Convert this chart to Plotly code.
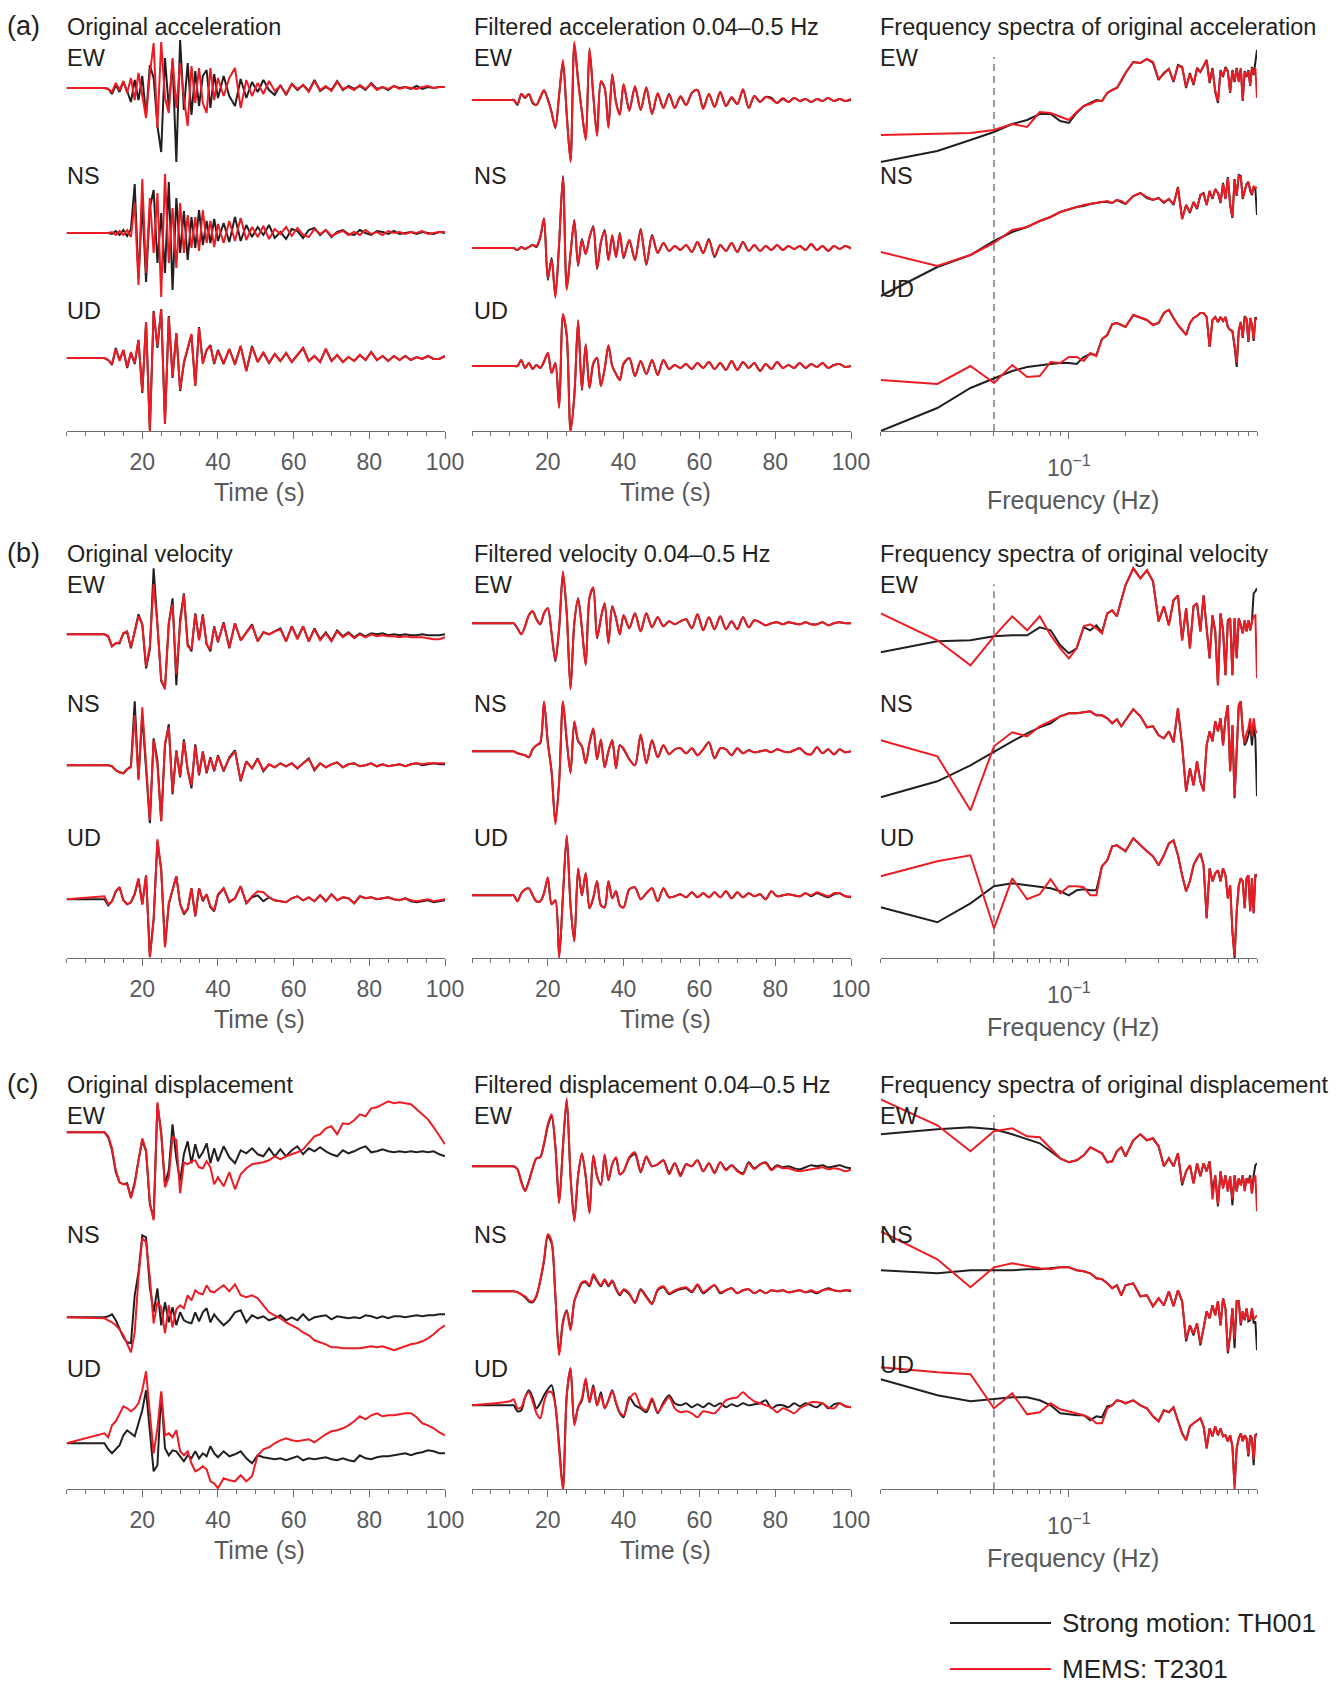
import plotly.graph_objects as go

W, H = 1342, 1683

# ---------------------------------------------------------------------------
# Sample times (s) shared by all waveforms
T = [0, 10, 11, 12, 13, 14, 15, 16,
     17, 18, 19, 20, 21, 22, 23, 24,
     25, 26, 27, 28, 29, 30, 31, 32,
     33, 34, 35, 36, 37, 38, 39, 40,
     41.5, 43, 44.5, 46, 47.5, 49, 50.5, 52,
     53.5, 55, 56.5, 58, 59.5, 61, 62.5, 64,
     65.5, 67, 68.5, 70, 71.5, 73, 74.5, 76,
     77.5, 79, 80.5, 82, 83.5, 85, 86.5, 88,
     89.5, 91, 92.5, 94, 95.5, 97, 98.5, 100]

# Frequencies (Hz) of the amplitude spectra
F = [0.01, 0.02, 0.03, 0.04, 0.05, 0.06, 0.07, 0.08,
     0.09, 0.10, 0.11, 0.12, 0.13, 0.14, 0.15, 0.16,
     0.17, 0.18, 0.19, 0.20, 0.22, 0.24, 0.26, 0.28,
     0.30, 0.32, 0.34, 0.36, 0.38, 0.40, 0.42, 0.44,
     0.46, 0.48, 0.50, 0.52, 0.54, 0.56, 0.58, 0.60,
     0.62, 0.64, 0.66, 0.68, 0.70, 0.72, 0.74, 0.76,
     0.78, 0.80, 0.82, 0.84, 0.86, 0.88, 0.90, 0.92,
     0.94, 0.96, 0.98, 1.00]

# ---------------------------------------------------------------------------
# Original acceleration (relative amplitude)
ACC_EW_SM = [0, 0, -1, -6, 3, -4, 6, -3, -14, 8, -12, 12, -28, 23, 10, -38,
             -64, 30, -20, 27, -74, 48, -22, 25, -27, 17, -18, 12, 18, -20, 14, -10,
             12, -8, -18, 9, -10, 6, -4, 8, -2, -7, 3, -7, 4, -2, 3, -3,
             8, -3, 1, -2, 7, -2, 2, -1, 2, -2, 5, -1, 1, -2, 2, 0,
             1, -1, 2, -1, 1, 0, 1, 1]
ACC_EW_MEMS = [0, 0, -1, -4, 5, -2, 7, -5, 10, -12, 15, -10, -30, 14, 45, -40,
               46, -10, -25, 30, -20, 25, -10, -38, 22, -15, 20, -15, -25, 20, -12, 10,
               -8, 10, 20, -20, 8, -8, 5, -6, 7, -3, 2, -6, 4, -1, 3, -4,
               7, -2, 2, -3, 6, -1, 1, -2, 3, -1, 4, -2, 1, -1, 2, -1,
               1, 0, -1, 1, 2, 0, 1, 1]
ACC_NS_SM = [0, 0, 0, -1, 2, -2, 3, -3, 4, 49, -46, 30, -49, 25, 43, -30,
             20, -40, 51, -57, 35, -20, 22, -27, 16, -15, 23, -12, 12, -10, 14, -8,
             10, -9, 16, -8, 8, -4, 6, -2, 8, -5, 1, -6, 4, 2, -5, 3,
             5, -2, 3, -4, 1, 3, -1, -2, 3, 0, -2, 2, 1, -1, 2, -1,
             0, 1, -1, 1, 0, -1, 1, 0]
ACC_NS_MEMS = [0, 0, 0, 1, -2, 2, -2, 3, -4, 30, -52, 54, -40, 35, -20, 40,
               -64, 59, -30, 25, -35, 30, -20, 18, -15, 16, -18, 23, -10, 12, -14, 9,
               -10, 12, -8, 15, -7, 6, -4, 7, -6, 4, -1, 6, -3, 5, -2, -4,
               4, -1, 3, -3, 0, 2, -2, 1, -2, 3, -1, 1, -2, 2, 0, 1,
               -1, 1, 0, 2, -1, 0, 1, 1]
ACC_UD_SM = [0, 0, -2, -7, 10, -2, 8, -10, 5, -6, 18, -35, 36, -72, 47, 10,
             49, -65, 42, -20, 25, -33, -5, 10, 23, -28, 31, -5, 8, 13, -6, 8,
             -6, 9, -6, 12, -13, 12, -4, 5, -5, 4, -3, 5, -4, 3, 10, -3,
             2, -4, 9, -3, 3, -4, 1, -3, 3, -2, 6, -2, 2, -3, 2, -2,
             2, -2, 1, -1, 2, -1, -1, 2]
ACC_UD_MEMS = [0, 0, -2, -6, 9, -3, 8, -9, 6, -5, 18, -34, 36, -74, 46, 12,
               49, -66, 41, -19, 25, -32, -4, 9, 24, -28, 30, -6, 8, 12, -5, 7,
               -5, 9, -7, 12, -13, 11, -4, 6, -5, 4, -3, 5, -4, 3, 10, -3,
               2, -4, 9, -3, 3, -4, 1, -3, 3, -2, 6, -2, 2, -3, 2, -2,
               2, -2, 1, -1, 2, -1, -1, 2]

# Filtered acceleration 0.04-0.5 Hz
FACC_EW_SM = [0, 0, 0, -5, 6, 2, 6, -3, -5, 2, 9, 1, -12, -28, 5, 38,
              -15, -60, 55, 20, -12, -38, 50, 5, -35, 18, 12, -27, 25, -2, -14, 15,
              -10, 13, -10, 12, -14, 6, -8, 6, -8, 3, -5, 7, 10, -8, 6, -7,
              8, -6, 2, -4, 10, -8, 4, -2, 3, 2, -3, 1, -2, 2, -1, 1,
              -2, 1, -1, 2, -1, 1, -1, 0]
FACC_EW_MEMS = [0, 0, 0, -4, 6, 3, 6, -2, -5, 3, 10, 0, -13, -27, 6, 40,
                -14, -62, 58, 18, -12, -40, 52, 4, -36, 19, 12, -28, 26, -3, -15, 16,
                -11, 14, -10, 13, -14, 7, -8, 5, -8, 4, -5, 7, 10, -9, 6, -7,
                8, -6, 3, -4, 11, -8, 4, -2, 3, 1, -3, 2, -2, 2, -1, 1,
                -2, 1, -1, 2, -1, 1, -1, 1]
FACC_NS_SM = [0, 0, 0, -2, 1, -1, 1, 3, 1, 10, 29, -32, -10, -47, 5, 72,
              -40, -6, 28, -18, 9, -6, 10, 22, -21, 5, 18, -12, 12, -9, 15, -10,
              8, -12, 19, -17, 13, -5, 5, -3, 2, -2, 3, -4, 6, -5, 9, -9,
              3, -3, 5, -4, 6, -3, 3, -3, 2, -2, 3, -2, 2, -1, 2, -2,
              4, -2, 2, -3, 2, -1, 2, 0]
FACC_NS_MEMS = [0, 0, 0, -2, 1, -1, 1, 3, 2, 11, 30, -30, -12, -50, 6, 70,
                -42, -5, 27, -17, 8, -6, 11, 21, -20, 6, 17, -12, 13, -9, 14, -9,
                8, -12, 18, -16, 12, -5, 5, -3, 2, -2, 3, -4, 6, -5, 8, -8,
                3, -3, 5, -4, 6, -3, 3, -3, 2, -2, 3, -2, 2, -1, 2, -2,
                4, -2, 2, -3, 2, -1, 2, -1]
FACC_UD_SM = [0, 0, 0, 0, 6, -2, 3, -3, 1, -2, 4, 13, -7, 3, -41, 50,
              30, -64, -30, 45, -24, 21, -22, 2, 8, -20, -3, 20, 0, -8, -14, 2,
              8, -10, 5, -8, 6, -9, 6, -3, 1, -2, 2, -3, 3, -2, 4, -3,
              3, -4, 5, -4, 4, -2, 3, -5, 2, -3, 4, -2, 1, -2, 3, -2,
              2, -1, 3, -2, 1, 2, -1, 0]
FACC_UD_MEMS = [0, 0, 0, 0, 6, -2, 3, -3, 1, -2, 5, 13, -7, 3, -42, 52,
                31, -66, -30, 46, -24, 22, -22, 3, 8, -20, -3, 21, 0, -8, -14, 3,
                8, -10, 5, -8, 6, -9, 6, -3, 1, -2, 2, -3, 3, -2, 4, -3,
                3, -4, 5, -4, 4, -2, 3, -5, 2, -3, 4, -2, 1, -2, 3, -2,
                2, -1, 3, -2, 1, 2, -1, 0]

# Original velocity
VEL_EW_SM = [0, 0, -2, -12, -9, -9, 1, 2, -14, 3, 20, 10, -34, -15, 66, 10,
             -47, -54, 10, 36, -51, 15, 41, -10, -17, 21, -5, 20, -10, -17, 8, -8,
             12, -14, 11, -6, 2, 10, -7, 2, 0, 3, 6, -7, 8, -4, 8, -7,
             6, -5, 2, -6, 4, -2, 2, -3, 1, -2, 1, 0, 1, -1, 0, -1,
             0, -1, -1, 0, -1, -1, -1, 0]
VEL_EW_MEMS = [0, 0, -2, -12, -9, -8, 1, 3, -13, 4, 18, 10, -32, -12, 50, 10,
               -45, -55, 12, 30, -40, 10, 40, -12, -15, 20, -6, 19, -10, -15, 7, -7,
               11, -13, 11, -6, 2, 9, -7, 2, 0, 3, 5, -7, 8, -5, 8, -7,
               5, -6, 1, -7, 3, -3, 1, -4, 0, -3, 0, -2, -1, -2, -2, -3,
               -2, -3, -3, -3, -4, -5, -5, -3]
VEL_NS_SM = [0, 0, 0, -1, -5, -7, -8, -4, -1, 64, -13, 50, -5, -58, 27, 5,
             -56, 20, 41, -29, 15, -12, 26, -5, -23, 21, -10, 14, -8, 8, -6, 10,
             -6, 8, 15, -16, 4, -3, 7, -6, 1, -2, 2, -1, 2, -3, 2, 7,
             -5, 2, -2, 1, 3, -2, 1, 2, -1, 0, 2, -1, 1, -1, 0, 1,
             -1, 1, 2, 0, 1, 2, 1, 1]
VEL_NS_MEMS = [0, 0, 0, -1, -5, -7, -8, -4, -2, 50, -15, 58, 0, -55, 25, 0,
               -56, 22, 38, -27, 14, -11, 24, -4, -20, 19, -9, 13, -7, 7, -5, 9,
               -5, 7, 14, -15, 4, -3, 6, -5, 1, -2, 2, -1, 2, -3, 2, 6,
               -4, 2, -2, 1, 3, -2, 1, 2, -1, 0, 2, -1, 1, -1, 0, 1,
               -1, 1, 2, 1, 2, 2, 2, 2]
VEL_UD_SM = [0, 0, -6, -2, 8, 12, -1, -5, -3, 5, 20, -5, 24, -57, -20, 58,
             30, -47, -5, 10, 23, -5, -15, -10, 11, -17, 11, -2, 5, -8, -12, 4,
             11, -3, 1, 13, -4, 2, 4, -2, 2, -1, -2, -3, 1, 3, -1, 2,
             -2, 4, -2, 5, -1, 2, 1, -4, 3, 1, 2, 0, 1, 2, 0, -1,
             1, -2, -3, -2, -1, -3, -2, -1]
VEL_UD_MEMS = [0, 3, -5, -2, 8, 12, -1, -5, -3, 6, 21, -5, 24, -58, -20, 60,
               30, -48, -4, 10, 23, -4, -14, -9, 11, -16, 11, -1, 5, -7, -11, 5,
               11, -2, 1, 13, -4, 3, 8, 7, 2, -1, -2, -3, 1, 3, -1, 2,
               -2, 4, -2, 5, -1, 2, 1, -4, 3, 1, 2, 0, 1, 2, 0, -1,
               1, -1, -2, -1, 0, -2, -1, 0]

# Filtered velocity 0.04-0.5 Hz
FVEL_EW_SM = [0, 0, 0, -5, -11, -3, 8, 12, 4, -1, 10, 15, -10, -38, -5, 50,
              10, -65, 0, 25, -5, -41, 25, 35, -15, 5, 20, -20, 17, 5, -11, 8,
              -5, 10, -8, 10, -4, 6, -3, 2, -1, 2, 4, -5, 9, -7, 6, -6,
              7, -6, 2, -6, 6, -4, 3, 1, -2, 0, 1, -1, 1, 0, -1, 1,
              -1, -1, 1, -2, 0, 1, 0, 0]
FVEL_EW_MEMS = [0, 0, 0, -5, -11, -3, 8, 12, 4, -1, 10, 15, -10, -37, -4, 52,
                10, -66, 1, 24, -5, -42, 26, 36, -14, 5, 20, -20, 17, 5, -11, 8,
                -5, 10, -8, 10, -4, 6, -3, 2, -1, 2, 4, -5, 9, -7, 6, -6,
                7, -6, 2, -6, 6, -4, 3, 1, -2, 0, 1, -1, 1, 0, -1, 1,
                -1, -1, 1, -2, 0, 1, 0, 0]
FVEL_NS_SM = [0, 0, 0, -2, -3, -4, -6, 2, 6, 8, 49, 9, -20, -71, -30, 49,
              10, -21, 29, 10, 5, -12, 8, 22, -8, 11, -16, 0, 11, -17, 6, 2,
              -8, -14, 16, -12, 11, -6, 6, -3, 2, 3, -2, 3, -4, 2, 9, -7,
              3, 2, -4, 3, -2, 1, -1, 0, 1, -1, 2, 0, -1, 1, 3, -2,
              -3, 4, -2, 2, -3, 2, -1, 0]
FVEL_NS_MEMS = [0, 0, 0, -2, -3, -4, -6, 2, 6, 9, 50, 9, -21, -73, -31, 50,
                11, -22, 30, 11, 5, -12, 9, 23, -8, 12, -16, 0, 11, -17, 6, 3,
                -8, -14, 17, -12, 11, -6, 6, -3, 2, 3, -2, 3, -4, 2, 9, -7,
                3, 2, -4, 3, -2, 1, -1, 0, 1, -1, 2, 0, -1, 1, 3, -2,
                -3, 4, -2, 2, -3, 2, -1, 0]
FVEL_UD_SM = [0, 0, 0, -6, 2, 6, 7, 0, -6, -6, 2, 17, -9, -5, -61, 0,
              59, -10, -46, 26, 0, 22, -13, -3, 14, -10, -12, 14, -3, 4, -10, -12,
              6, 8, -4, 2, 7, -6, 7, -2, -1, 1, -2, 3, -2, 2, -2, 3,
              -2, 4, -3, 3, -2, 2, -1, 1, -4, 4, -1, 0, 1, 0, -1, 2,
              -1, 2, 0, -2, 1, 2, -1, -2]
FVEL_UD_MEMS = [0, 0, 0, -6, 2, 6, 7, 0, -6, -6, 2, 18, -9, -5, -63, 0,
                60, -10, -46, 27, 0, 22, -13, -2, 14, -10, -12, 14, -3, 4, -10, -12,
                6, 8, -4, 2, 7, -6, 7, -2, -1, 1, -2, 3, -2, 2, -2, 3,
                -2, 4, -3, 3, -2, 2, -1, 1, -4, 4, -1, 0, 1, 0, -1, 2,
                0, 3, 1, -1, 2, 2, -1, -1]

# Original displacement
DISP_EW_SM = [0, 0, -5, -18, -40, -50, -52, -51, -65, -50, -28, -8, -19, -72, -86, 28,
              0, -52, -38, 8, -26, -49, -22, -9, -31, -12, -26, -20, -11, -31, -16, -29,
              -14, -25, -31, -18, -21, -16, -22, -24, -16, -24, -17, -24, -18, -14, -22, -16,
              -19, -15, -19, -22, -24, -18, -21, -19, -16, -14, -20, -19, -17, -19, -20, -19,
              -20, -19, -20, -19, -20, -19, -22, -24]
DISP_EW_MEMS = [0, 0, -4, -16, -38, -50, -52, -52, -66, -52, -28, -6, -18, -70, -88, 30,
                -2, -55, -45, -4, -8, -61, -30, -32, -29, -28, -35, -36, -29, -35, -52, -45,
                -54, -40, -57, -42, -36, -32, -31, -30, -28, -24, -27, -24, -22, -20, -17, -11,
                -4, -2, 4, 6, -2, 9, 8, 12, 18, 16, 24, 25, 28, 31, 29, 30,
                29, 28, 23, 18, 13, 5, -4, -12]
DISP_NS_SM = [0, 0, 1, 3, -3, -12, -20, -25, -26, 22, 45, 82, 80, 30, 5, 29,
              -8, 15, -5, 10, -8, 5, -3, -5, -6, 5, -4, 5, 9, -5, 3, -2,
              -8, -3, 5, 7, -5, 2, -1, 1, -3, -1, 2, -3, 0, -3, 3, -3,
              0, 1, 2, -2, 1, 0, -1, 0, -1, 2, 1, -1, 1, -1, 1, 1,
              0, 1, 2, 1, 2, 2, 3, 3]
DISP_NS_MEMS = [0, -1, -3, -5, -8, -12, -18, -26, -35, -15, 40, 79, 75, 40, -6, 15,
                10, -16, 12, -10, 8, 12, 9, 22, 17, 27, 24, 23, 32, 26, 25, 28,
                32, 26, 33, 22, 20, 22, 19, 12, 5, 2, -1, -5, -8, -11, -15, -18,
                -23, -25, -27, -30, -30, -31, -31, -31, -31, -30, -29, -30, -29, -31, -33, -31,
                -29, -27, -26, -24, -21, -17, -12, -8]
DISP_UD_SM = [0, 0, -6, -10, -6, -2, 8, 13, 10, 7, 20, 33, 53, 8, -28, -22,
              50, -5, -12, -7, -8, -13, -18, -12, -15, -8, -15, -10, -13, -3, -10, -14,
              -8, -13, -11, -8, -15, -20, -12, -14, -15, -16, -15, -17, -15, -13, -17, -15,
              -16, -15, -14, -16, -17, -15, -17, -18, -12, -15, -16, -14, -13, -13, -12, -11,
              -10, -12, -10, -9, -7, -8, -10, -10]
DISP_UD_MEMS = [0, 10, 6, 18, 22, 30, 37, 35, 32, 35, 40, 53, 72, 30, -10, 15,
                52, 8, 10, 6, 13, -8, -12, -8, -20, -28, -26, -23, -26, -38, -40, -45,
                -35, -37, -38, -32, -38, -33, -12, -6, -4, 0, 3, 5, 3, 2, 3, 4,
                1, 5, 9, 12, 13, 15, 18, 22, 27, 24, 28, 30, 27, 28, 28, 29,
                30, 30, 26, 20, 18, 15, 11, 8]

# Filtered displacement 0.04-0.5 Hz
FDISP_EW_SM = [0, 0, 0, -3, -15, -24, -15, -2, 8, 9, 22, 40, 50, 20, -36, 20,
               66, -10, -54, -9, 12, -10, -46, 10, -10, -18, 11, -14, 2, 8, -8, -5,
               8, 12, -6, 9, 0, 2, 6, -6, 3, -8, 2, 0, 6, -5, 3, -6,
               4, -3, 1, -4, -7, 4, -2, 2, 4, -3, 1, -1, 0, -2, -3, -1,
               1, 0, 1, -1, 0, 1, -1, -2]
FDISP_EW_MEMS = [0, 0, 0, -3, -16, -25, -15, -2, 8, 9, 23, 42, 52, 20, -37, 20,
                 68, -10, -55, -9, 13, -10, -47, 11, -10, -19, 12, -14, 2, 9, -8, -5,
                 9, 14, -5, 10, 0, 2, 6, -8, 3, -10, 2, 0, 6, -5, 3, -7,
                 4, -4, 1, -5, -8, 3, -3, 2, 3, -4, 0, -2, -2, -4, -5, -4,
                 -3, -2, -1, -3, -2, -3, -5, -3]
FDISP_NS_SM = [0, 0, 0, -1, -3, -6, -10, -11, -5, 10, 30, 55, 48, -5, -62, -30,
               -19, -37, -10, 0, 8, 9, 5, 15, 10, 5, 11, 5, 10, 2, -4, 1,
               -3, -11, 2, -5, -12, 1, 4, -3, 0, 2, 3, -1, 6, -2, 2, 6,
               -2, 1, 3, -2, 1, 2, -2, 1, -2, 1, 0, 1, -1, 0, 1, -1,
               0, -2, 1, 3, 1, 0, 1, 0]
FDISP_NS_MEMS = [0, 0, 0, -1, -3, -5, -9, -10, -4, 11, 32, 57, 50, -4, -64, -32,
                 -20, -39, -10, 1, 9, 10, 6, 17, 11, 6, 12, 6, 11, 3, -3, 2,
                 -2, -12, 1, -6, -13, 2, 5, -2, 1, 3, 4, 0, 7, -1, 3, 6,
                 -1, 1, 3, -2, 1, 2, -2, 1, -2, 1, 0, 1, -1, 0, 1, -1,
                 1, -1, 1, 2, 1, 0, 1, 1]
FDISP_UD_SM = [0, 0, 0, -6, -5, 8, 15, 8, -3, 2, 10, 16, 20, 0, -40, -83,
               10, 37, -18, -2, 5, 25, 3, 20, 0, 13, -3, 5, 15, 2, -8, -12,
               8, 0, -3, -7, 5, -8, 3, 10, 2, 0, 2, -2, 1, -2, 2, -1,
               2, -2, 1, -1, 2, 0, 1, 2, 5, -3, 0, 0, -2, 2, -1, 2,
               0, -2, 2, -3, 1, 2, -1, -2]
FDISP_UD_MEMS = [0, 4, 6, -3, -2, 8, 13, 4, -8, -13, 3, 13, 13, 0, -45, -85,
                 10, 37, -20, -2, 7, 27, 3, 18, 0, 10, -3, 5, 14, 3, -7, -10,
                 6, 12, -1, -5, 7, -7, 1, 8, -3, -7, -6, -8, -12, -6, -7, -8,
                 -2, 5, 7, 8, 13, 8, 4, 2, 0, -2, -7, -3, -5, -8, -3, 0,
                 3, 3, 2, -2, -3, 2, -1, -2]

# ---------------------------------------------------------------------------
# Amplitude spectra (relative log amplitude)
SPA_EW_SM = [269, 280, 291, 299, 307, 311, 317, 317, 310, 308, 318, 325, 328, 331, 330, 338,
             341, 343, 350, 358, 369, 368, 372, 368, 351, 358, 362, 349, 366, 364, 343, 358,
             346, 363, 359, 366, 371, 348, 363, 339, 328, 361, 354, 364, 360, 338, 361, 349,
             363, 350, 362, 330, 360, 354, 361, 345, 364, 356, 372, 381]
SPA_EW_MEMS = [296, 297, 298, 301, 307, 304, 319, 318, 314, 311, 319, 325, 327, 330, 330, 338,
               341, 343, 351, 358, 369, 368, 372, 369, 352, 357, 362, 350, 365, 364, 344, 357,
               347, 362, 359, 365, 371, 349, 362, 340, 330, 360, 355, 363, 359, 339, 360, 350,
               362, 349, 363, 331, 359, 355, 360, 346, 363, 357, 363, 333]
SPA_NS_SM = [135, 164, 176, 190, 199, 204, 210, 214, 219, 222, 224, 225, 227, 228, 229, 229,
             228, 231, 229, 227, 235, 238, 233, 231, 233, 228, 232, 226, 244, 212, 226, 218,
             229, 222, 236, 238, 226, 240, 232, 242, 238, 228, 248, 232, 254, 226, 213, 252,
             235, 256, 255, 232, 240, 247, 249, 240, 236, 244, 242, 216]
SPA_NS_MEMS = [179, 165, 176, 188, 201, 204, 210, 214, 219, 222, 224, 226, 227, 228, 229, 230,
               228, 231, 230, 227, 235, 238, 234, 231, 233, 229, 232, 227, 243, 212, 226, 219,
               229, 223, 236, 237, 226, 240, 233, 241, 238, 229, 247, 232, 253, 227, 214, 251,
               236, 255, 254, 233, 240, 246, 248, 241, 237, 245, 243, 244]
SPA_UD_SM = [0, 23, 43, 53, 60, 64, 66, 67, 68, 68, 67, 74, 77, 76, 92, 96,
             107, 108, 106, 104, 116, 113, 111, 106, 108, 118, 121, 113, 106, 101, 96, 108,
             113, 115, 118, 118, 114, 84, 111, 114, 109, 114, 110, 114, 104, 101, 100, 84,
             64, 100, 109, 93, 115, 112, 89, 113, 107, 90, 113, 113]
SPA_UD_MEMS = [51, 47, 65, 48, 66, 54, 55, 69, 68, 74, 74, 70, 78, 75, 92, 96,
               107, 108, 106, 104, 116, 113, 111, 106, 108, 118, 121, 113, 106, 101, 96, 108,
               113, 115, 118, 118, 114, 84, 111, 114, 109, 114, 110, 114, 104, 101, 100, 86,
               68, 101, 109, 94, 114, 112, 90, 113, 106, 92, 112, 112]

SPV_EW_SM = [306, 317, 318, 322, 323, 323, 331, 328, 313, 305, 310, 331, 328, 333, 326, 345,
             348, 342, 358, 373, 390, 380, 388, 377, 337, 352, 333, 358, 363, 318, 350, 310,
             352, 355, 327, 363, 330, 300, 343, 327, 273, 345, 328, 283, 338, 340, 283, 340,
             300, 340, 333, 325, 338, 327, 338, 328, 337, 365, 367, 370]
SPV_EW_MEMS = [345, 318, 293, 322, 342, 328, 342, 323, 310, 300, 310, 332, 334, 330, 325, 345,
               348, 342, 358, 373, 390, 380, 388, 377, 337, 352, 333, 358, 363, 318, 350, 310,
               352, 355, 327, 363, 330, 300, 343, 327, 273, 345, 328, 283, 338, 340, 283, 340,
               300, 340, 333, 325, 338, 327, 338, 328, 337, 342, 343, 280]
SPV_NS_SM = [161, 177, 193, 207, 217, 225, 231, 235, 242, 245, 245, 246, 247, 243, 243, 240,
             235, 239, 232, 238, 249, 242, 231, 232, 223, 220, 227, 216, 250, 213, 167, 190,
             173, 197, 177, 167, 213, 227, 217, 237, 227, 240, 213, 240, 253, 187, 233, 160,
             213, 253, 257, 227, 213, 217, 223, 233, 213, 233, 220, 162]
SPV_NS_MEMS = [218, 202, 148, 212, 226, 222, 232, 237, 242, 245, 245, 246, 247, 243, 243, 240,
               235, 239, 232, 238, 249, 242, 231, 232, 223, 220, 227, 216, 250, 213, 167, 190,
               173, 197, 177, 167, 213, 227, 217, 237, 227, 240, 213, 240, 253, 187, 233, 162,
               213, 253, 257, 227, 215, 225, 230, 240, 222, 240, 228, 225]
SPV_UD_SM = [51, 36, 55, 72, 75, 73, 71, 70, 67, 63, 68, 69, 68, 68, 92, 98,
             112, 113, 110, 107, 120, 113, 107, 102, 93, 103, 115, 118, 103, 83, 67, 77,
             93, 100, 105, 93, 40, 90, 77, 85, 88, 77, 90, 83, 60, 73, 27, 0,
             47, 73, 80, 77, 50, 80, 83, 47, 80, 45, 83, 82]
SPV_UD_MEMS = [82, 97, 103, 30, 80, 59, 64, 79, 65, 72, 72, 71, 63, 63, 92, 98,
               112, 113, 110, 107, 120, 113, 107, 102, 93, 103, 115, 118, 103, 83, 67, 77,
               93, 100, 105, 93, 40, 90, 77, 85, 88, 77, 90, 83, 60, 73, 27, 2,
               47, 73, 80, 77, 50, 80, 83, 47, 80, 45, 83, 84]

SPD_EW_SM = [355, 360, 362, 360, 355, 350, 346, 338, 331, 327, 329, 334, 342, 339, 336, 327,
             328, 338, 342, 333, 349, 355, 349, 351, 343, 323, 331, 323, 336, 304, 318, 324,
             306, 326, 313, 326, 318, 328, 298, 314, 283, 318, 301, 314, 298, 313, 284, 314,
             298, 311, 304, 314, 300, 311, 308, 314, 296, 314, 324, 326]
SPD_EW_MEMS = [390, 364, 338, 358, 361, 353, 352, 341, 331, 327, 329, 334, 342, 339, 336, 327,
               328, 338, 342, 333, 349, 355, 349, 351, 343, 323, 331, 323, 336, 306, 318, 324,
               306, 326, 313, 326, 318, 328, 290, 314, 285, 318, 301, 314, 298, 313, 290, 314,
               298, 311, 304, 314, 298, 311, 306, 312, 296, 310, 314, 278]
SPD_NS_SM = [219, 216, 219, 219, 219, 220, 220, 221, 222, 222, 219, 218, 216, 211, 210, 206,
             201, 204, 194, 204, 206, 193, 194, 183, 191, 184, 198, 183, 199, 188, 148, 164,
             154, 166, 144, 161, 178, 171, 184, 174, 188, 164, 191, 181, 136, 154, 181, 141,
             188, 188, 164, 178, 169, 181, 168, 169, 181, 166, 168, 139]
SPD_NS_MEMS = [258, 230, 202, 222, 226, 223, 221, 220, 222, 222, 219, 218, 216, 211, 210, 206,
               201, 204, 194, 204, 206, 193, 194, 183, 191, 184, 198, 183, 199, 188, 150, 164,
               156, 166, 146, 161, 178, 171, 184, 174, 188, 164, 191, 181, 138, 154, 181, 150,
               188, 188, 166, 178, 170, 181, 170, 170, 181, 170, 172, 174]
SPD_UD_SM = [110, 94, 88, 90, 92, 92, 89, 84, 76, 75, 74, 74, 69, 73, 72, 83,
             84, 89, 88, 86, 89, 84, 81, 73, 68, 79, 77, 82, 68, 56, 49, 63,
             66, 69, 71, 63, 41, 61, 53, 63, 54, 61, 53, 54, 48, 54, 43, 4,
             41, 51, 56, 48, 54, 51, 33, 54, 51, 24, 54, 56]
SPD_UD_MEMS = [122, 117, 115, 81, 96, 75, 77, 86, 80, 78, 76, 74, 71, 66, 66, 81,
               84, 89, 88, 86, 89, 84, 81, 73, 68, 79, 77, 82, 68, 56, 49, 63,
               66, 69, 71, 63, 41, 61, 53, 63, 54, 61, 53, 54, 48, 54, 43, 0,
               41, 51, 56, 48, 54, 51, 35, 54, 51, 30, 54, 54]

COMPONENTS = ["EW", "NS", "UD"]
ROW_LETTERS = ["(a)", "(b)", "(c)"]
TITLES = [
    ["Original acceleration", "Filtered acceleration 0.04–0.5 Hz",
     "Frequency spectra of original acceleration"],
    ["Original velocity", "Filtered velocity 0.04–0.5 Hz",
     "Frequency spectra of original velocity"],
    ["Original displacement", "Filtered displacement 0.04–0.5 Hz",
     "Frequency spectra of original displacement"],
]
TIME_TICKS = [20, 40, 60, 80, 100]
FREQ_MINOR = [0.01, 0.02, 0.03, 0.04, 0.05, 0.06, 0.07, 0.08, 0.09,
              0.2, 0.3, 0.4, 0.5, 0.6, 0.7, 0.8, 0.9, 1.0]
F_CUT = 0.04
LEGEND_NAMES = ["Strong motion: TH001", "MEMS: T2301"]

WAVES = {
    (0, 0): [(ACC_EW_SM, ACC_EW_MEMS), (ACC_NS_SM, ACC_NS_MEMS), (ACC_UD_SM, ACC_UD_MEMS)],
    (0, 1): [(FACC_EW_SM, FACC_EW_MEMS), (FACC_NS_SM, FACC_NS_MEMS), (FACC_UD_SM, FACC_UD_MEMS)],
    (1, 0): [(VEL_EW_SM, VEL_EW_MEMS), (VEL_NS_SM, VEL_NS_MEMS), (VEL_UD_SM, VEL_UD_MEMS)],
    (1, 1): [(FVEL_EW_SM, FVEL_EW_MEMS), (FVEL_NS_SM, FVEL_NS_MEMS), (FVEL_UD_SM, FVEL_UD_MEMS)],
    (2, 0): [(DISP_EW_SM, DISP_EW_MEMS), (DISP_NS_SM, DISP_NS_MEMS), (DISP_UD_SM, DISP_UD_MEMS)],
    (2, 1): [(FDISP_EW_SM, FDISP_EW_MEMS), (FDISP_NS_SM, FDISP_NS_MEMS), (FDISP_UD_SM, FDISP_UD_MEMS)],
}
SPECTRA = {
    0: [(SPA_EW_SM, SPA_EW_MEMS), (SPA_NS_SM, SPA_NS_MEMS), (SPA_UD_SM, SPA_UD_MEMS)],
    1: [(SPV_EW_SM, SPV_EW_MEMS), (SPV_NS_SM, SPV_NS_MEMS), (SPV_UD_SM, SPV_UD_MEMS)],
    2: [(SPD_EW_SM, SPD_EW_MEMS), (SPD_NS_SM, SPD_NS_MEMS), (SPD_UD_SM, SPD_UD_MEMS)],
}

# ---------------------------------------------------------------------------
# Layout geometry (pixels)
ROW_AXIS = [431.0, 958.3, 1489.3]          # y of each row's x-axis line
COL_X = [(66.6, 445.0), (472.0, 851.0), (880.7, 1257.0)]
PANEL_H = 400                               # plot height above the axis line
TRACE_BASE = {                              # vertical offsets of EW / NS / UD traces
    (0, 0): (343, 198, 73), (0, 1): (331, 183, 65),
    (1, 0): (324, 193, 59), (1, 1): (335, 207, 63),
    (2, 0): (357, 172, 46), (2, 1): (323, 198, 84),
}
LABEL_X = [65, 472, 878]
LABEL_UP = {"title": 404, "EW": 373, "NS": 254.5, "UD": 120}
UD_UP_SPEC = [142, 120, 124]

FONT = "Liberation Sans, Arial, Helvetica, sans-serif"
INK = "#231f20"
GREY = "#58595b"
AXIS_C = "#6d6e71"
BLACK = "#231f20"
RED = "#ed1c24"
LABEL_SIZE = 23.5
TICK_SIZE = 23
AXTITLE_SIZE = 25
LETTER_SIZE = 27
KEY_SIZE = 26


def px_x(px):
    return px / W


def px_y(py):
    return 1 - py / H


fig = go.Figure()
annotations = []
shapes = []
layout_axes = {}

for r in range(3):
    ax_py = ROW_AXIS[r]
    for c in range(3):
        k = r * 3 + c + 1
        sfx = "" if k == 1 else str(k)
        xa, ya = "x" + sfx, "y" + sfx
        x0, x1 = COL_X[c]

        layout_axes["yaxis" + sfx] = dict(
            domain=[px_y(ax_py), px_y(ax_py - PANEL_H)], range=[0, PANEL_H],
            visible=False, fixedrange=True, anchor=xa, automargin=False)

        common = dict(
            domain=[px_x(x0), px_x(x1)], anchor=ya, showline=True,
            linecolor=AXIS_C, linewidth=1, ticks="outside", ticklen=7,
            tickwidth=1, tickcolor=AXIS_C, showgrid=False, zeroline=False,
            fixedrange=True, automargin=False,
            tickfont=dict(family=FONT, size=TICK_SIZE, color=GREY))

        if c < 2:
            layout_axes["xaxis" + sfx] = dict(
                common, range=[0, 100], tickmode="array", tickvals=TIME_TICKS,
                ticktext=[str(v) for v in TIME_TICKS], ticklabelstandoff=3,
                minor=dict(ticks="outside", tick0=0, dtick=5, ticklen=4,
                           tickwidth=1, tickcolor=AXIS_C, showgrid=False))
            bases = TRACE_BASE[(r, c)]
            shape = "spline" if c == 1 else "linear"
            for comp_i, (sm, mems) in enumerate(WAVES[(r, c)]):
                for vals, col in ((sm, BLACK), (mems, RED)):
                    fig.add_trace(go.Scatter(
                        x=T, y=[bases[comp_i] + v for v in vals], xaxis=xa, yaxis=ya,
                        mode="lines", hoverinfo="skip", showlegend=False,
                        line=dict(color=col, width=2, shape=shape,
                                  smoothing=0.8 if shape == "spline" else None)))
            axis_title = "Time (s)"
            title_dy = 61
        else:
            layout_axes["xaxis" + sfx] = dict(
                common, type="log", range=[-2, 0], tickmode="array",
                tickvals=[0.1], ticktext=["10<sup>−1</sup>"], ticklabelstandoff=9,
                minor=dict(ticks="outside", tickmode="array", tickvals=FREQ_MINOR,
                           ticklen=4, tickwidth=1, tickcolor=AXIS_C, showgrid=False))
            for sm, mems in SPECTRA[r]:
                for vals, col in ((sm, BLACK), (mems, RED)):
                    fig.add_trace(go.Scatter(
                        x=F, y=vals, xaxis=xa, yaxis=ya, mode="lines",
                        hoverinfo="skip", showlegend=False,
                        line=dict(color=col, width=2)))
            shapes.append(dict(
                type="line", xref=xa, yref="paper", x0=F_CUT, x1=F_CUT,
                y0=px_y(ax_py), y1=px_y(ax_py - 374),
                line=dict(color=GREY, width=1.2, dash="7px,5px"), layer="below"))
            axis_title = "Frequency (Hz)"
            title_dy = 69

        # axis title
        annotations.append(dict(
            text=axis_title, xref="paper", yref="paper",
            x=px_x((x0 + x1) / 2 + 4), y=px_y(ax_py + title_dy),
            xanchor="center", yanchor="middle", showarrow=False,
            font=dict(family=FONT, size=AXTITLE_SIZE, color=GREY)))

        # panel title and component labels
        annotations.append(dict(
            text=TITLES[r][c], xref="paper", yref="paper",
            x=px_x(LABEL_X[c]), y=px_y(ax_py - LABEL_UP["title"]),
            xanchor="left", yanchor="middle", showarrow=False,
            font=dict(family=FONT, size=LABEL_SIZE, color=INK)))
        for comp in COMPONENTS:
            up = LABEL_UP[comp]
            if comp == "UD" and c == 2:
                up = UD_UP_SPEC[r]
            annotations.append(dict(
                text=comp, xref="paper", yref="paper",
                x=px_x(LABEL_X[c]), y=px_y(ax_py - up),
                xanchor="left", yanchor="middle", showarrow=False,
                font=dict(family=FONT, size=LABEL_SIZE, color=INK)))

    annotations.append(dict(
        text=ROW_LETTERS[r], xref="paper", yref="paper",
        x=px_x(5), y=px_y(ax_py - 405), xanchor="left", yanchor="middle",
        showarrow=False, font=dict(family=FONT, size=LETTER_SIZE, color=INK)))

# key
for i, (name, col) in enumerate(zip(LEGEND_NAMES, (BLACK, RED))):
    ly = 1623 + 46 * i
    shapes.append(dict(type="line", xref="paper", yref="paper",
                       x0=px_x(950), x1=px_x(1051), y0=px_y(ly), y1=px_y(ly),
                       line=dict(color=col, width=2)))
    annotations.append(dict(
        text=name, xref="paper", yref="paper", x=px_x(1060), y=px_y(ly),
        xanchor="left", yanchor="middle", showarrow=False,
        font=dict(family=FONT, size=KEY_SIZE, color=INK)))

fig.update_layout(
    width=W, height=H, autosize=False, margin=dict(l=0, r=0, t=0, b=0, pad=0),
    paper_bgcolor="white", plot_bgcolor="white", showlegend=False,
    annotations=annotations, shapes=shapes, **layout_axes)

fig.write_html("out.html", config={"displayModeBar": False, "responsive": False})
